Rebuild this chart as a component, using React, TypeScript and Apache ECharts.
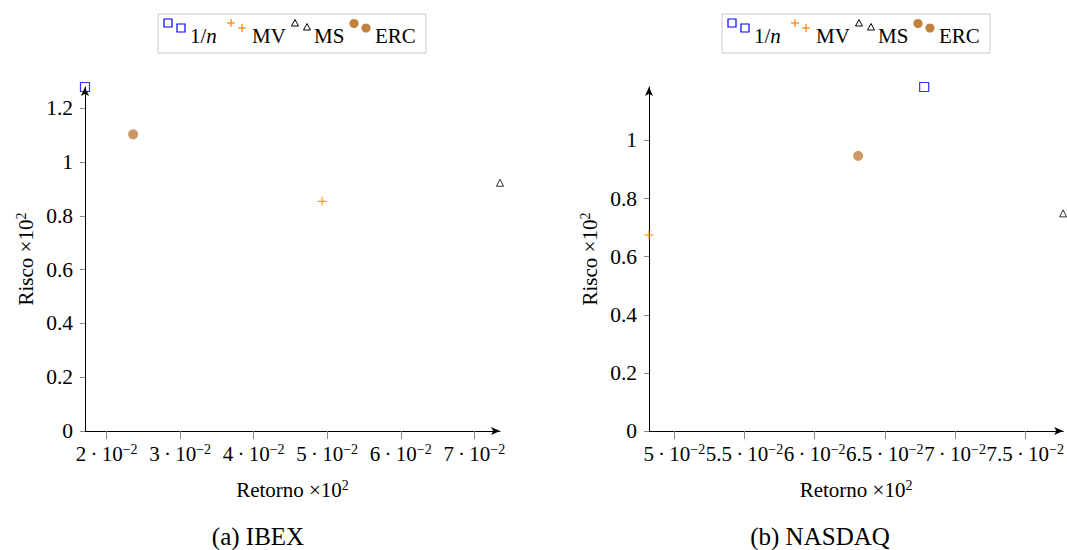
import { useEffect, useRef } from "react";
import * as echarts from "echarts";

const methods = ["1/n", "MV", "MS", "ERC"];
const ibexRetorno = [0.01705, 0.0493, 0.0735, 0.0236];
const ibexRisco = [1.279, 0.854, 0.923, 1.103];
const nasdaqRetorno = [0.0678, 0.0482, 0.0777, 0.0631];
const nasdaqRisco = [1.184, 0.675, 0.749, 0.947];
const ibexXTicks = [0.02, 0.03, 0.04, 0.05, 0.06, 0.07];
const nasdaqXTicks = [0.05, 0.055, 0.06, 0.065, 0.07, 0.075];
const ibexYTicks = [0, 0.2, 0.4, 0.6, 0.8, 1, 1.2];
const nasdaqYTicks = [0, 0.2, 0.4, 0.6, 0.8, 1];
const panelTitles = ["(a) IBEX", "(b) NASDAQ"];
const xName = "Retorno";
const yName = "Risco";

const FONT = "'Liberation Serif', 'DejaVu Serif', serif";
const BLUE = "#0000ff";
const ORANGE = "#ff8000";
const BROWN = "#bf8040";

const markerStyles: Record<string, any> = {
  "1/n": { symbol: "rect", symbolSize: 9, itemStyle: { color: "transparent", borderColor: BLUE, borderWidth: 1.2 } },
  MV: { symbol: "path://M5 0V10M0 5H10", symbolSize: 9, itemStyle: { color: "none", borderColor: ORANGE, borderWidth: 1.2 } },
  MS: { symbol: "triangle", symbolSize: 7, itemStyle: { color: "transparent", borderColor: "#000", borderWidth: 1 } },
  ERC: { symbol: "circle", symbolSize: 10, itemStyle: { color: BROWN } },
};

const panels = [
  { x: ibexRetorno, y: ibexRisco, xt: ibexXTicks, yt: ibexYTicks, left: 85 },
  { x: nasdaqRetorno, y: nasdaqRisco, xt: nasdaqXTicks, yt: nasdaqYTicks, left: 649 },
];

const GRID_TOP = 87;
const GRID_W = 415;
const GRID_H = 344;

const baseText = { fontFamily: FONT, color: "#000" };
const rich = {
  b: { ...baseText, fontSize: 21, lineHeight: 24 },
  s: { ...baseText, fontSize: 14, lineHeight: 13, verticalAlign: "top" },
  n: { ...baseText, fontSize: 21, lineHeight: 24 },
  ns: { ...baseText, fontSize: 14, lineHeight: 12, verticalAlign: "top" },
};

const fmtX = (v: number) => {
  const m = Number((v * 100).toFixed(4)).toString();
  return `{b|${m}\u2009·\u200910}{s|\u22122}`;
};
const fmtY = (v: number) => Number(v.toFixed(3)).toString();

function legendGraphic(dx: number) {
  const els: any[] = [];
  els.push({
    type: "rect",
    shape: { x: 158 + dx, y: 14, width: 268, height: 39 },
    style: { fill: "#fff", stroke: "#c8c8c8", lineWidth: 1 },
  });
  [[168, 23], [181, 28]].forEach(([cx, cy]) =>
    els.push({
      type: "rect",
      shape: { x: cx - 4 + dx, y: cy - 4, width: 8, height: 8 },
      style: { fill: "none", stroke: BLUE, lineWidth: 1.2 },
    })
  );
  [[231, 23], [242, 28]].forEach(([cx, cy]) => {
    els.push({ type: "line", shape: { x1: cx - 4 + dx, y1: cy, x2: cx + 4 + dx, y2: cy }, style: { stroke: ORANGE, lineWidth: 1.2 } });
    els.push({ type: "line", shape: { x1: cx + dx, y1: cy - 4, x2: cx + dx, y2: cy + 4 }, style: { stroke: ORANGE, lineWidth: 1.2 } });
  });
  [[295, 23], [307, 27]].forEach(([cx, cy]) =>
    els.push({
      type: "polygon",
      shape: { points: [[cx + dx, cy - 3.5], [cx + 3.5 + dx, cy + 3], [cx - 3.5 + dx, cy + 3]] },
      style: { fill: "none", stroke: "#000", lineWidth: 1 },
    })
  );
  [[354, 23.5], [366, 28]].forEach(([cx, cy]) =>
    els.push({ type: "circle", shape: { cx: cx + dx, cy, r: 4.6 }, style: { fill: BROWN } })
  );
  const labels: [string, number][] = [
    ["{a|1/}{i|n}", 190],
    ["{a|" + methods[1] + "}", 252],
    ["{a|" + methods[2] + "}", 314],
    ["{a|" + methods[3] + "}", 375],
  ];
  labels.forEach(([t, x]) =>
    els.push({
      type: "text",
      x: x + dx,
      y: 36,
      style: {
        text: t,
        verticalAlign: "middle",
        align: "left",
        rich: {
          a: { ...baseText, fontSize: 21 },
          i: { ...baseText, fontSize: 21, fontStyle: "italic" },
        },
      },
    })
  );
  return els;
}

export default function App() {
  const ref = useRef<HTMLDivElement>(null);
  useEffect(() => {
    const chart = echarts.init(ref.current!, null, { renderer: "svg" });
    const series: any[] = [];
    panels.forEach((p, pi) => {
      methods.forEach((m, i) => {
        series.push({
          type: "scatter",
          name: m,
          xAxisIndex: pi,
          yAxisIndex: pi,
          data: [[p.x[i], p.y[i]]],
          ...markerStyles[m],
          z: 5,
        });
      });
    });
    const option: any = {
      animation: false,
      backgroundColor: "#fff",
      grid: panels.map((p) => ({ left: p.left, top: GRID_TOP, width: GRID_W, height: GRID_H })),
      xAxis: panels.map((p, pi) => ({
        gridIndex: pi,
        type: "value",
        min: "dataMin",
        max: "dataMax",
        axisLine: { show: true, onZero: false, symbol: ["none", "arrow"], symbolSize: [6, 9], lineStyle: { color: "#000", width: 1 } },
        axisTick: { show: true, length: 8, customValues: p.xt, lineStyle: { color: "#888" } },
        axisLabel: { customValues: p.xt, formatter: fmtX, rich, margin: 11, color: "#000" },
        splitLine: { show: false },
        name: `{n|${xName} ×10}{ns|2}`,
        nameLocation: "middle",
        nameGap: 47,
        nameTextStyle: { rich },
      })),
      yAxis: panels.map((p, pi) => ({
        gridIndex: pi,
        type: "value",
        min: 0,
        max: "dataMax",
        axisLine: { show: true, onZero: false, symbol: ["none", "arrow"], symbolSize: [6, 9], lineStyle: { color: "#000", width: 1 } },
        axisTick: { show: true, length: 5, customValues: p.yt, lineStyle: { color: "#888" } },
        axisLabel: { customValues: p.yt, formatter: fmtY, fontSize: 21.5, fontFamily: FONT, color: "#000", margin: 12 },
        splitLine: { show: false },
        name: `{n|${yName} ×10}{ns|2}`,
        nameLocation: "middle",
        nameGap: 47,
        nameTextStyle: { rich },
      })),
      series,
      graphic: [
        ...legendGraphic(0),
        ...legendGraphic(564),
        ...panelTitles.map((t, i) => ({
          type: "text",
          x: [258, 820][i],
          y: 536,
          style: { text: t, align: "center", verticalAlign: "middle", fontSize: 25, fontFamily: FONT, fill: "#000" },
        })),
      ],
    };
    chart.setOption(option);
    return () => chart.dispose();
  }, []);
  return (
    <div
      ref={ref}
      style={{ position: "absolute", left: 0, top: 0, width: 1067, height: 550, background: "#fff" }}
    />
  );
}
